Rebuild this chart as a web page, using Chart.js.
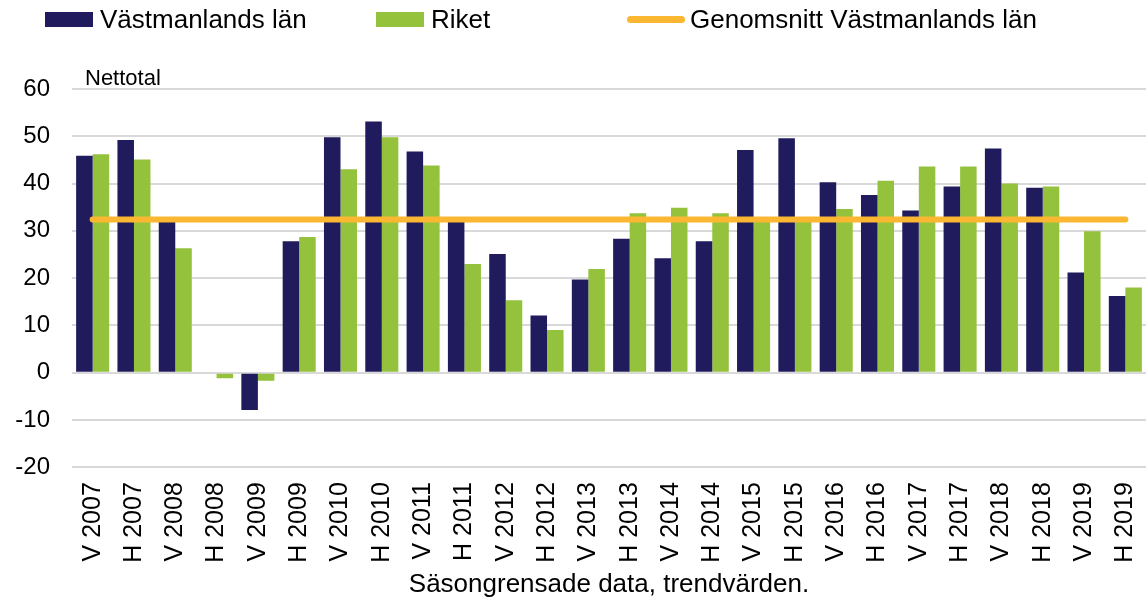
<!DOCTYPE html>
<html>
<head>
<meta charset="utf-8">
<script src="https://cdn.jsdelivr.net/npm/chart.js@4.4.1/dist/chart.umd.min.js"></script>
<style>
  html, body { margin: 0; padding: 0; background: #fff; }
  #wrap { position: relative; width: 1146px; height: 598px; font-family: 'Liberation Sans', Arial, sans-serif; }
  #legend { position: absolute; top: 0; left: 0; width: 1146px; height: 40px; z-index: 2; }
  .item { position: absolute; top: 4px; height: 30px; display: flex; align-items: center; font-size: 26px; color: #000; white-space: nowrap; }
  .swatch { width: 48px; height: 15px; margin-right: 7px; }
  .swatch.line { width: 58px; height: 7px; border-radius: 4px; margin-right: 5px; }
</style>
</head>
<body>
<div id="wrap">
  <div id="legend"></div>
  <canvas id="chart" width="1146" height="598"></canvas>
</div>
<script>
const categories = ['V 2007', 'H 2007', 'V 2008', 'H 2008', 'V 2009', 'H 2009', 'V 2010', 'H 2010',
  'V 2011', 'H 2011', 'V 2012', 'H 2012', 'V 2013', 'H 2013', 'V 2014', 'H 2014', 'V 2015', 'H 2015',
  'V 2016', 'H 2016', 'V 2017', 'H 2017', 'V 2018', 'H 2018', 'V 2019', 'H 2019']
const vastmanland = [45.9, 49.2, 32.5, 0, -7.9, 27.8, 49.8, 53.1, 46.8, 32.5, 25.1, 12.1, 19.7,
  28.3, 24.2, 27.8, 47.1, 49.6, 40.3, 37.6, 34.3, 39.4, 47.4, 39.1, 21.2, 16.2]
const riket = [46.2, 45.1, 26.3, -1.2, -1.7, 28.7, 43.0, 49.8, 43.8, 23.0, 15.3, 9.0, 21.9,
  33.7, 34.9, 33.7, 32.5, 32.5, 34.6, 40.6, 43.6, 43.6, 40.0, 39.4, 29.9, 18.0]
const genomsnitt = 32.4
const yMin = -20
const yMax = 60
const yStep = 10

const font = "'Liberation Sans', Arial, sans-serif"

// y-axelns rubrik ovanför diagramytan
const nettotalLabel = {
  id: 'nettotalLabel',
  afterDraw(chart) {
    const ctx = chart.ctx
    ctx.save()
    ctx.font = '22px ' + font
    ctx.fillStyle = '#000'
    ctx.textBaseline = 'alphabetic'
    ctx.fillText('Nettotal', chart.chartArea.left + 13, chart.chartArea.top - 4)
    ctx.restore()
  }
}

const chart = new Chart(document.getElementById('chart'), {
  data: {
    labels: categories,
    datasets: [{
      type: 'bar',
      label: 'Västmanlands län',
      data: vastmanland,
      backgroundColor: '#1F1B5C',
      borderWidth: 0,
      order: 1
    }, {
      type: 'bar',
      label: 'Riket',
      data: riket,
      backgroundColor: '#95C23D',
      borderWidth: 0,
      order: 1
    }, {
      type: 'line',
      label: 'Genomsnitt Västmanlands län',
      data: [
        { x: categories[0], y: genomsnitt },
        { x: categories[categories.length - 1], y: genomsnitt }
      ],
      borderColor: '#FBB731',
      backgroundColor: '#FBB731',
      borderWidth: 6,
      borderCapStyle: 'round',
      pointRadius: 0,
      order: 0
    }]
  },
  options: {
    responsive: false,
    animation: false,
    layout: { padding: { top: 89, left: 0, right: 0, bottom: 0 } },
    datasets: {
      bar: { categoryPercentage: 0.8, barPercentage: 1 }
    },
    plugins: {
      legend: { display: false },
      tooltip: { enabled: false }
    },
    scales: {
      x: {
        grid: { display: false, drawTicks: false },
        border: { display: false },
        ticks: {
          autoSkip: false,
          maxRotation: 90,
          minRotation: 90,
          padding: 15,
          color: '#000',
          font: { family: font, size: 25 }
        },
        title: {
          display: true,
          text: 'Säsongrensade data, trendvärden.',
          color: '#000',
          font: { family: font, size: 26 },
          padding: { top: -9, bottom: -2 }
        },
        afterFit(scale) {
          scale.paddingLeft = 0
          scale.paddingRight = 0
        }
      },
      y: {
        min: yMin,
        max: yMax,
        grid: { color: '#D9D9D9', lineWidth: 2, drawTicks: false },
        border: { display: false },
        ticks: {
          stepSize: yStep,
          padding: 22,
          color: '#000',
          font: { family: font, size: 24 }
        },
        afterFit(scale) {
          scale.width = 72
        }
      }
    }
  },
  plugins: [nettotalLabel]
})

// HTML-legend byggd från dataseten
const legendLefts = [45, 376, 627]
const legend = document.getElementById('legend')
chart.data.datasets.forEach((ds, i) => {
  const item = document.createElement('div')
  item.className = 'item'
  item.style.left = legendLefts[i] + 'px'
  const sw = document.createElement('span')
  sw.className = ds.type === 'line' ? 'swatch line' : 'swatch'
  sw.style.background = ds.type === 'line' ? ds.borderColor : ds.backgroundColor
  item.appendChild(sw)
  item.appendChild(document.createTextNode(ds.label))
  legend.appendChild(item)
})
</script>
</body>
</html>
